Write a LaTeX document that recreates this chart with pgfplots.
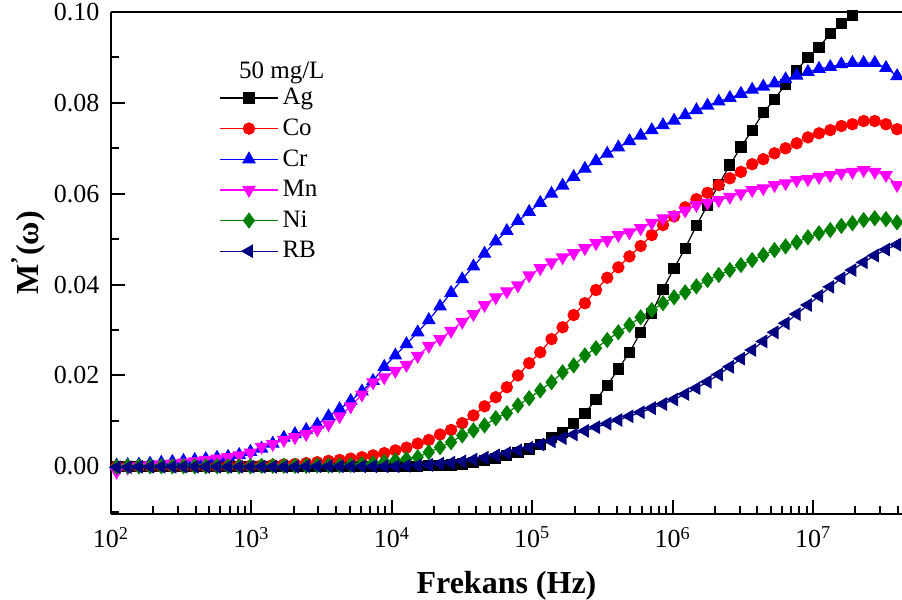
\documentclass[border=0pt]{standalone}
\usepackage{fontspec}
\setmainfont{Liberation Serif}
\usepackage{pgfplots}
\usepackage{pgfplotstable}
\pgfplotsset{compat=1.18}
\definecolor{cNavy}{RGB}{0,0,128}
\definecolor{cGreen}{RGB}{0,128,0}
\definecolor{cMag}{RGB}{255,0,255}

% L = log10(frequency / Hz)
\pgfplotstableread{
L Ag Co Cr Mn Ni RB
2.040 0.0000 0.0000 0.0002 -0.0012 -0.0001 -0.0002
2.119 0.0000 0.0000 0.0003 -0.0003 0.0000 -0.0002
2.199 0.0000 0.0000 0.0004 0.0000 0.0000 -0.0001
2.278 0.0000 0.0000 0.0006 0.0002 0.0000 -0.0001
2.358 0.0000 0.0000 0.0008 0.0004 0.0000 -0.0001
2.437 0.0000 0.0000 0.0010 0.0006 0.0000 -0.0001
2.516 0.0000 0.0000 0.0012 0.0008 0.0000 -0.0001
2.596 0.0000 0.0000 0.0014 0.0011 0.0000 -0.0001
2.675 0.0000 0.0000 0.0016 0.0014 0.0000 -0.0001
2.755 0.0000 0.0000 0.0019 0.0017 0.0000 -0.0001
2.834 0.0000 0.0001 0.0021 0.0020 0.0000 -0.0001
2.913 0.0000 0.0001 0.0025 0.0024 0.0000 -0.0001
2.993 0.0000 0.0001 0.0032 0.0030 0.0000 -0.0001
3.072 0.0000 0.0002 0.0039 0.0043 0.0001 -0.0001
3.152 0.0000 0.0003 0.0050 0.0049 0.0001 -0.0001
3.231 0.0000 0.0004 0.0063 0.0058 0.0001 -0.0001
3.310 0.0000 0.0005 0.0071 0.0064 0.0001 -0.0001
3.390 0.0000 0.0007 0.0080 0.0071 0.0001 0.0000
3.469 0.0000 0.0009 0.0092 0.0081 0.0002 0.0000
3.549 0.0000 0.0012 0.0110 0.0092 0.0002 0.0000
3.628 0.0000 0.0014 0.0126 0.0110 0.0002 0.0000
3.707 0.0000 0.0017 0.0144 0.0132 0.0003 0.0000
3.787 0.0000 0.0020 0.0165 0.0158 0.0005 0.0000
3.866 0.0000 0.0024 0.0188 0.0185 0.0007 0.0000
3.946 0.0000 0.0029 0.0219 0.0196 0.0010 0.0000
4.025 0.0000 0.0035 0.0244 0.0210 0.0013 0.0000
4.104 0.0000 0.0041 0.0269 0.0223 0.0016 0.0001
4.184 0.0000 0.0050 0.0295 0.0243 0.0020 0.0002
4.263 0.0001 0.0058 0.0322 0.0265 0.0031 0.0003
4.343 0.0002 0.0070 0.0352 0.0280 0.0042 0.0006
4.422 0.0003 0.0080 0.0382 0.0298 0.0053 0.0008
4.501 0.0005 0.0095 0.0412 0.0318 0.0068 0.0011
4.581 0.0008 0.0112 0.0440 0.0335 0.0079 0.0015
4.660 0.0012 0.0132 0.0468 0.0355 0.0090 0.0019
4.740 0.0017 0.0152 0.0495 0.0372 0.0106 0.0024
4.819 0.0023 0.0174 0.0518 0.0385 0.0117 0.0029
4.898 0.0030 0.0200 0.0540 0.0398 0.0134 0.0035
4.978 0.0038 0.0227 0.0560 0.0420 0.0150 0.0041
5.057 0.0048 0.0251 0.0580 0.0436 0.0167 0.0048
5.137 0.0064 0.0280 0.0600 0.0449 0.0185 0.0055
5.216 0.0075 0.0306 0.0618 0.0460 0.0207 0.0062
5.295 0.0095 0.0333 0.0637 0.0469 0.0222 0.0070
5.375 0.0117 0.0359 0.0655 0.0480 0.0244 0.0078
5.454 0.0147 0.0388 0.0672 0.0491 0.0260 0.0086
5.534 0.0178 0.0415 0.0688 0.0498 0.0278 0.0094
5.613 0.0214 0.0438 0.0702 0.0509 0.0295 0.0102
5.692 0.0251 0.0462 0.0716 0.0515 0.0311 0.0110
5.772 0.0295 0.0485 0.0728 0.0524 0.0328 0.0119
5.851 0.0337 0.0509 0.0740 0.0536 0.0344 0.0128
5.931 0.0390 0.0531 0.0751 0.0546 0.0359 0.0137
6.010 0.0436 0.0550 0.0761 0.0553 0.0372 0.0147
6.089 0.0480 0.0570 0.0773 0.0563 0.0383 0.0159
6.169 0.0530 0.0588 0.0784 0.0575 0.0396 0.0172
6.248 0.0575 0.0602 0.0794 0.0580 0.0410 0.0186
6.328 0.0620 0.0619 0.0803 0.0586 0.0421 0.0202
6.407 0.0663 0.0634 0.0811 0.0593 0.0432 0.0219
6.486 0.0703 0.0648 0.0820 0.0601 0.0443 0.0237
6.566 0.0740 0.0665 0.0829 0.0608 0.0454 0.0256
6.645 0.0778 0.0676 0.0836 0.0612 0.0465 0.0275
6.725 0.0808 0.0689 0.0843 0.0619 0.0476 0.0295
6.804 0.0841 0.0700 0.0852 0.0623 0.0484 0.0315
6.883 0.0872 0.0711 0.0860 0.0630 0.0493 0.0335
6.963 0.0900 0.0724 0.0868 0.0632 0.0504 0.0355
7.042 0.0922 0.0733 0.0875 0.0637 0.0513 0.0375
7.122 0.0953 0.0740 0.0879 0.0641 0.0520 0.0395
7.201 0.0975 0.0749 0.0885 0.0646 0.0529 0.0414
7.280 0.0993 0.0753 0.0888 0.0648 0.0535 0.0432
7.360 0.1015 0.0760 0.0888 0.0652 0.0542 0.0449
7.439 0.1035 0.0760 0.0888 0.0648 0.0546 0.0464
7.519 0.1050 0.0753 0.0877 0.0641 0.0544 0.0477
7.598 0.1060 0.0742 0.0859 0.0619 0.0537 0.0488
}\datatable

\begin{document}
\begin{tikzpicture}
\path[use as bounding box] (-55.5bp,-43bp) rectangle (395.5bp,257bp);
\begin{axis}[
  at={(0,0)}, anchor=south west,
  scale only axis, width=395.5bp, height=251bp,
  xmin=2, xmax=7.633, ymin=-0.0105, ymax=0.10,
  axis lines*=left,
  axis line style={line width=1bp,-},
  tick align=inside,
  tick style={line width=1bp,black},
  major tick length=6.8bp, minor tick length=4bp,
  xtick={2,3,4,5,6,7},
  xticklabels={10\textsuperscript{2},10\textsuperscript{3},10\textsuperscript{4},10\textsuperscript{5},10\textsuperscript{6},10\textsuperscript{7}},
  minor xtick={2.301,2.477,2.602,2.699,2.778,2.845,2.903,2.954,
               3.301,3.477,3.602,3.699,3.778,3.845,3.903,3.954,
               4.301,4.477,4.602,4.699,4.778,4.845,4.903,4.954,
               5.301,5.477,5.602,5.699,5.778,5.845,5.903,5.954,
               6.301,6.477,6.602,6.699,6.778,6.845,6.903,6.954,
               7.301,7.477,7.602},
  ytick={0,0.02,0.04,0.06,0.08,0.10},
  yticklabels={0.00,0.02,0.04,0.06,0.08,0.10},
  minor ytick={-0.01,0.01,0.03,0.05,0.07,0.09},
  tick label style={font=\fontsize{13bp}{15.5bp}\selectfont},
  xticklabel style={yshift=-3bp},
  yticklabel style={xshift=-2.3bp},
  xlabel={\textbf{Frekans (Hz)}},
  xlabel style={font=\fontsize{16bp}{19bp}\selectfont, at={(axis description cs:0.5,-0.1)}, anchor=north},
  ylabel={\textbf{M\textsuperscript{'}(ω)}},
  ylabel style={font=\fontsize{16bp}{19bp}\selectfont, at={(axis description cs:-0.074,0.52)}, anchor=south, rotate=0},
  legend style={draw=none, fill=none, at={(axis description cs:0.1365,0.857)}, anchor=north west,
    font=\fontsize{12.5bp}{15bp}\selectfont, row sep=1.6bp, inner sep=0pt},
  legend cell align=left,
  legend image code/.code={\draw[mark repeat=2,mark phase=2] plot coordinates {(0bp,0bp) (14.5bp,0bp) (29bp,0bp)};},
  every axis plot/.append style={line width=0.6bp},
]
\draw[line width=1bp] (rel axis cs:0,1) -- (rel axis cs:1,1);
\addplot[black, mark=square*, mark size=2.5bp, mark options={solid}] table[x=L, y=Ag] {\datatable};
\addlegendentry{Ag}
\addplot[red, mark=*, mark size=2.8bp, mark options={solid}] table[x=L, y=Co] {\datatable};
\addlegendentry{Co}
\addplot[blue, mark=triangle*, mark size=3.4bp, mark options={solid}] table[x=L, y=Cr] {\datatable};
\addlegendentry{Cr}
\addplot[cMag, mark=triangle*, mark size=3.4bp, mark options={solid, rotate=180}] table[x=L, y=Mn] {\datatable};
\addlegendentry{Mn}
\addplot[cGreen, mark=diamond*, mark size=3.6bp, mark options={solid}] table[x=L, y=Ni] {\datatable};
\addlegendentry{Ni}
\addplot[cNavy, mark=triangle*, mark size=3.4bp, mark options={solid, rotate=90}] table[x=L, y=RB] {\datatable};
\addlegendentry{RB}
\node[anchor=base west, font=\fontsize{12.5bp}{15bp}\selectfont] at (axis description cs:0.153,0.8685) {50 mg/L};
\end{axis}
\end{tikzpicture}
\end{document}
